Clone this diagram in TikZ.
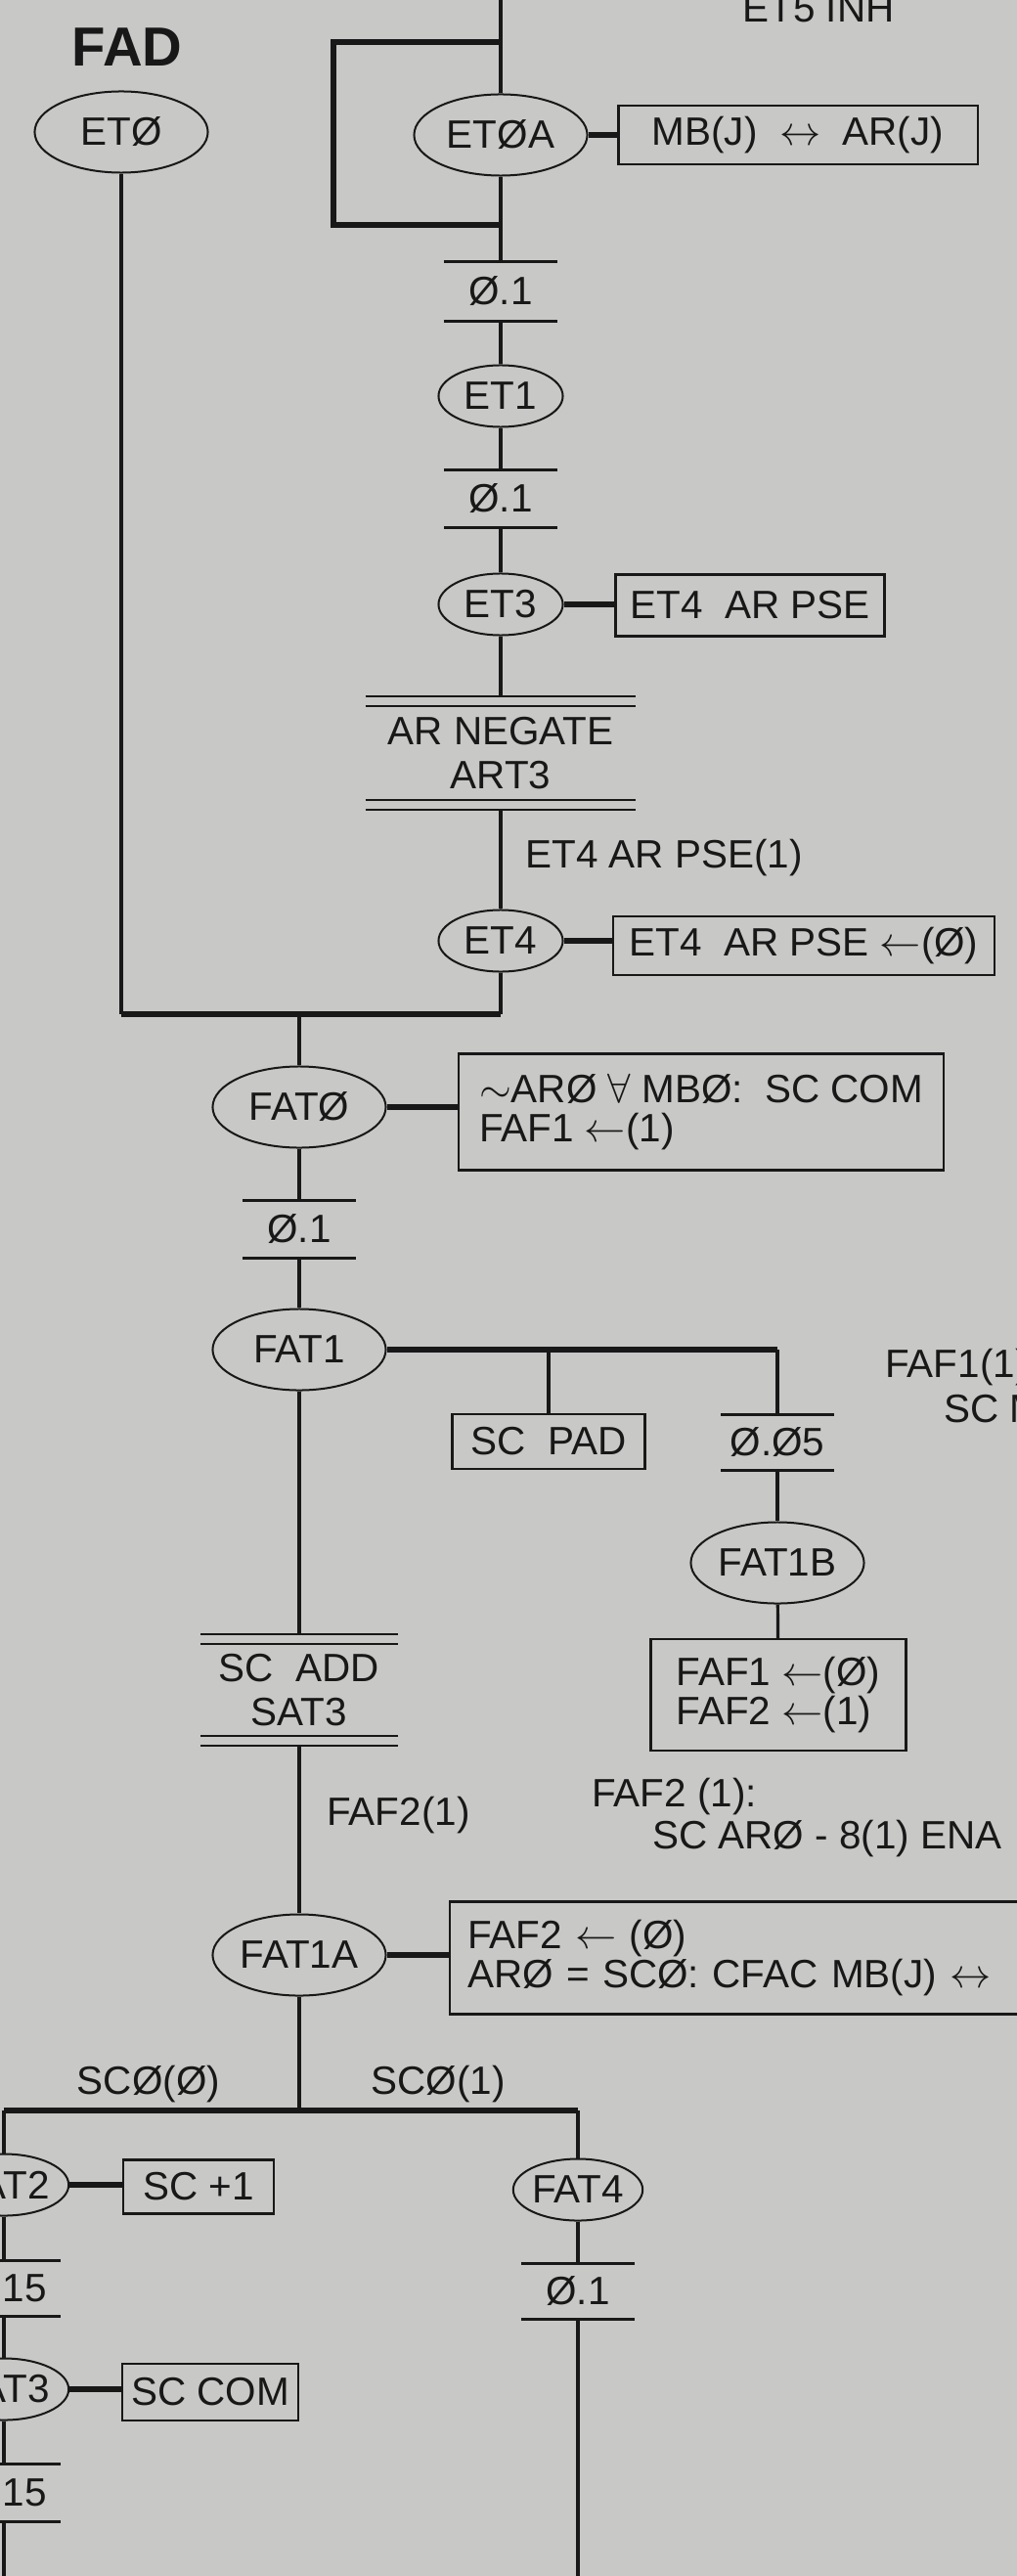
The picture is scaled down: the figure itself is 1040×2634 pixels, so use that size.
\documentclass[tikz,border=0pt]{standalone}
\usepackage{fontspec}
\setmainfont{Liberation Sans}
\usepackage{tikz}
\usetikzlibrary{shapes.geometric,calc}

\definecolor{paper}{RGB}{200,200,198}
\definecolor{ink}{RGB}{24,24,24}

\begin{document}
\begin{tikzpicture}[x=0.01cm, y=-0.01cm,
  every node/.style={font=\fontsize{11.5}{11.5}\selectfont, text=ink},
  line/.style={draw=ink, line width=0.032cm},
  heavy/.style={draw=ink, line width=0.055cm},
  rule/.style={draw=ink, line width=0.022cm},
  state/.style={ellipse, draw=ink, line width=0.02cm, inner sep=0pt, minimum width=1.77cm, minimum height=0.83cm},
  smallstate/.style={state, minimum width=1.27cm, minimum height=0.63cm},
  action/.style={rectangle, draw=ink, line width=0.022cm, inner sep=0pt},
  actlist/.style={rectangle, draw=ink, line width=0.022cm, inner xsep=0.18cm, inner ysep=0pt, align=left},
  bar/.style={inner sep=0pt, minimum width=1.15cm, minimum height=#1,
    append after command={(\tikzlastnode.north west) edge[line] (\tikzlastnode.north east)
      (\tikzlastnode.south west) edge[line] (\tikzlastnode.south east)}},
  bar/.default=0.58cm,
  dbar/.style={inner sep=0pt, minimum width=#1, align=center, font=\fontsize{11.5}{13}\selectfont,
    append after command={(\tikzlastnode.north west) edge[rule] (\tikzlastnode.north east)
      ([yshift=-0.1cm]\tikzlastnode.north west) edge[rule] ([yshift=-0.1cm]\tikzlastnode.north east)
      (\tikzlastnode.south west) edge[rule] (\tikzlastnode.south east)
      ([yshift=0.1cm]\tikzlastnode.south west) edge[rule] ([yshift=0.1cm]\tikzlastnode.south east)}}]

  % Sheet
  \fill[paper] (0,0) rectangle (1040,2634);
  \clip (0,0) rectangle (1040,2634);

  % Titles
  \node[font=\fontsize{16}{16}\bfseries\selectfont] (title) at (130,48) {FAD};
  \node[anchor=base west] (inh) at (747,23) {ET5 INH};

  % Upper column
  \node[state] (et0) at (124,135) {ETØ};
  \node[state] (et0a) at (512,138) {ETØA};
  \node[action, minimum width=3.67cm, minimum height=0.6cm] (swap) at (816,138) {MB(J) \ $\leftrightarrow$ \ AR(J)};
  \node[bar=0.59cm] (t1) at (512,298) {Ø.1};
  \node[smallstate] (et1) at (512,405) {ET1};
  \node[bar] (t2) at (512,510) {Ø.1};
  \node[smallstate] (et3) at (512,618) {ET3};
  \node[action, minimum width=2.75cm, minimum height=0.63cm] (pse) at (767,619) {ET4 \ AR PSE};
  \node[dbar=2.75cm, minimum height=1.15cm] (neg) at (512,770) {AR NEGATE\\ART3};
  \node[anchor=west] (pselbl) at (525,877) {ET4 AR PSE(1)};
  \node[smallstate] (et4) at (512,962) {ET4};
  \node[action, minimum width=3.9cm, minimum height=0.6cm] (pseclr) at (822,967) {ET4 \ AR PSE $\leftarrow$(Ø)};

  % FAT column
  \node[state] (fat0) at (306,1132) {FATØ};
  \node[actlist, minimum width=4.96cm, minimum height=1.19cm] (com) at (717,1137) {$\sim$ARØ $\forall$ MBØ:\ \ SC COM\\FAF1 $\leftarrow$(1)};
  \node[bar] (t3) at (306,1257) {Ø.1};
  \node[state] (fat1) at (306,1380) {FAT1};
  \node[action, minimum width=1.97cm, minimum height=0.56cm] (pad) at (561,1474) {SC\ \ PAD};
  \node[bar=0.56cm] (t4) at (795,1475) {Ø.Ø5};
  \node[anchor=west] (faf1lbl) at (893,1398) {FAF1(1)};
  \node[anchor=west] (scm) at (953,1441) {SC M};
  \node[state] (fat1b) at (795,1598) {FAT1B};
  \node[actlist, minimum width=2.61cm, minimum height=1.14cm] (faf) at (796,1733) {FAF1 $\leftarrow$(Ø)\\FAF2 $\leftarrow$(1)};
  \node[dbar=2.0cm, minimum height=1.13cm] (add) at (306,1728) {SC\ \ ADD\\SAT3};
  \node[anchor=west] (faflbl) at (322,1856) {FAF2(1)};
  \node[anchor=west] (enalbl) at (593,1837) {FAF2 (1):};
  \node[anchor=west] (ena) at (655,1880) {SC ARØ - 8(1) ENA};
  \node[state] (fat1a) at (306,1999) {FAT1A};
  \node[actlist, anchor=west, text width=6.1cm, minimum height=1.15cm] (cfac) at (459,2002) {FAF2 $\leftarrow$ (Ø)\\ARØ = SCØ:\ CFAC MB(J) $\leftrightarrow$};

  % Lower branches
  \node (sc0lbl) at (152,2131) {SCØ(Ø)};
  \node (sc1lbl) at (448,2131) {SCØ(1)};
  \node[smallstate] (fat2) at (4,2234) {FAT2};
  \node[action, minimum width=1.54cm, minimum height=0.55cm] (inc) at (203,2236) {SC +1};
  \node[bar=0.55cm] (t6) at (4,2340) {Ø.15};
  \node[smallstate] (fat3) at (4,2443) {FAT3};
  \node[action, minimum width=1.8cm, minimum height=0.58cm] (scc) at (215,2446) {SC COM};
  \node[bar] (t7) at (4,2549) {Ø.15};
  \node[smallstate] (fat4) at (591,2239) {FAT4};
  \node[bar=0.56cm] (t8) at (591,2343) {Ø.1};

  % Free ends and corners
  \coordinate (top) at (512,0);
  \coordinate (lpa) at (512,43);
  \coordinate (lpb) at (341,43);
  \coordinate (lpc) at (341,230);
  \coordinate (lpd) at (512,230);
  \coordinate (jn) at (306,1037);
  \coordinate (jn2) at (306,2158);
  \coordinate (end1) at (4,2634);
  \coordinate (end2) at (591,2634);

  % Flow lines
  \draw[line] (top) -- (et0a);
  \draw[heavy] (lpa) -- (lpb) -- (lpc) -- (lpd);
  \foreach \a/\b in {et0a/t1, t1/et1, et1/t2, t2/et3, et3/neg, neg/et4, fat0/t3, t3/fat1,
                     fat1/add, add/fat1a, t4/fat1b, fat1b/faf, fat2/t6, t6/fat3, t7/end1,
                     fat3/t7, fat4/t8, t8/end2}
    \draw[line] (\a) -- (\b);

  % Action stubs
  \foreach \a/\b in {et0a/swap, et3/pse, et4/pseclr, fat0/com, fat1a/cfac, fat2/inc, fat3/scc}
    \draw[heavy] (\a) -- (\a -| \b.west);

  % Joins and branches
  \draw[line] (et0) -- (et0 |- jn);
  \draw[line] (et4) -- (et4 |- jn);
  \draw[heavy] (et0 |- jn) -- (et4 |- jn);
  \draw[line] (jn) -- (fat0);
  \draw[heavy] (fat1) -- (fat1 -| t4);
  \draw[line] (fat1 -| pad) -- (pad);
  \draw[line] (fat1 -| t4) -- (t4);
  \draw[line] (fat1a) -- (jn2);
  \draw[heavy] (fat2 |- jn2) -- (fat4 |- jn2);
  \draw[line] (fat2 |- jn2) -- (fat2);
  \draw[line] (fat4 |- jn2) -- (fat4);
\end{tikzpicture}
\end{document}
